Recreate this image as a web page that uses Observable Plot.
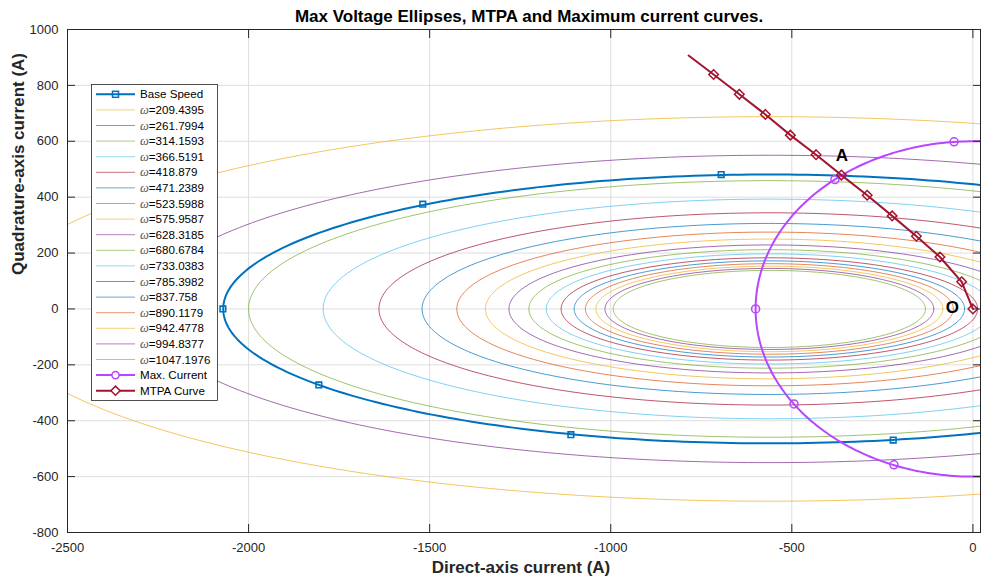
<!DOCTYPE html>
<html><head><meta charset="utf-8">
<script src="https://cdn.jsdelivr.net/npm/d3@7"></script>
<script src="https://cdn.jsdelivr.net/npm/@observablehq/plot@0.6"></script>
<style>
body{margin:0;background:#fff;}
#chart{position:relative;width:981px;height:578px;overflow:hidden;}
</style>
</head><body><div id="chart"></div>
<script>
// ---- data ----
const omegaLabels = ["209.4395","261.7994","314.1593","366.5191","418.879","471.2389","523.5988","575.9587","628.3185","680.6784","733.0383","785.3982","837.758","890.1179","942.4778","994.8377","1047.1976"];
const ellipseCenterD = -562;
const semiAxisD = [2157,1725,1438,1232,1078,959,863,784,719,664,616,575,539,508,479,454,431];
const semiAxisQ = [688,550,459,393,344,306,275,250,229,212,197,183,172,162,153,145,138];
const baseSemiD = 1508;
const baseSemiQ = 481;
const baseMarkD = [-2071,-1806,-1519,-1110,-695,-220];
const baseMarkQ = [0,-272,375,-450,481,-469];
const maxCurrentRadius = 600;
const maxMarkD = [-52,-381,-600,-494,-218];
const maxMarkQ = [598,463,0,-340,-558];
const mtpaD = [0,-31,-91,-156,-223,-292,-363,-433,-504,-573,-645,-716,-785];
const mtpaQ = [0,97,186,260,333,407,479,552,622,696,768,839,907];
const mtpaMarked = 12; // first 12 points carry markers
const noteText = ["A","O"];
const noteD = [-362,-57];
const noteQ = [549,5];
const xTicks = [-2500,-2000,-1500,-1000,-500,0];
const yTicks = [-800,-600,-400,-200,0,200,400,600,800,1000];

// ---- styles ----
const palette = ["#EDB120","#7E2F8E","#77AC30","#4DBEEE","#A2142F","#0072BD","#D95319"];
const baseColor = "#0072BD";
const maxColor = "#B845FF";
const mtpaColor = "#A2142F";
const axisColor = "#262626";
const gridColor = "#dedede";
const font = "'Liberation Sans', Arial, Helvetica, sans-serif";
const fmt = d => String(d);

const angles = d3.range(0, 361, 1).map(a => a * Math.PI / 180);
const ellipsePts = (cx, a, b) => angles.map(t => ({d: cx + a * Math.cos(t), q: b * Math.sin(t)}));

const ellipseMarks = semiAxisD.map((a, i) =>
  Plot.line(ellipsePts(ellipseCenterD, a, semiAxisQ[i]), {x: "d", y: "q", stroke: palette[i % 7], strokeWidth: 0.9, strokeOpacity: 0.8, clip: true})
);

const baseCurve = ellipsePts(ellipseCenterD, baseSemiD, baseSemiQ);
const circleCurve = ellipsePts(0, maxCurrentRadius, maxCurrentRadius);
const baseMarks = baseMarkD.map((d, i) => ({d, q: baseMarkQ[i]}));
const maxMarks = maxMarkD.map((d, i) => ({d, q: maxMarkQ[i]}));
const mtpa = mtpaD.map((d, i) => ({d, q: mtpaQ[i]}));
const notes = noteText.map((t, i) => ({t, d: noteD[i], q: noteQ[i]}));

const plot = Plot.plot({
  width: 981, height: 578,
  marginLeft: 67, marginRight: 1, marginTop: 29, marginBottom: 46,
  x: {domain: [-2500, 21]},
  y: {domain: [-800, 1000]},
  style: {fontFamily: font, fontSize: "13px", color: axisColor, background: "white"},
  marks: [
    Plot.gridX(xTicks, {stroke: gridColor, strokeOpacity: 1, strokeWidth: 1}),
    Plot.gridY(yTicks, {stroke: gridColor, strokeOpacity: 1, strokeWidth: 1}),
    ...ellipseMarks,
    Plot.line(baseCurve, {x: "d", y: "q", stroke: baseColor, strokeWidth: 2, clip: true}),
    Plot.dot(baseMarks, {x: "d", y: "q", symbol: "square2", r: 3.6, stroke: baseColor, strokeWidth: 1.6, fill: "none"}),
    Plot.line(circleCurve, {x: "d", y: "q", stroke: maxColor, strokeWidth: 2, clip: true}),
    Plot.dot(maxMarks, {x: "d", y: "q", symbol: "circle", r: 4, stroke: maxColor, strokeWidth: 1.5, fill: "none"}),
    Plot.line(mtpa, {x: "d", y: "q", stroke: mtpaColor, strokeWidth: 2, clip: true}),
    Plot.dot(mtpa.slice(0, mtpaMarked), {x: "d", y: "q", symbol: "diamond2", r: 4.3, stroke: mtpaColor, strokeWidth: 1.5, fill: "none"}),
    Plot.text(notes, {x: "d", y: "q", text: "t", fontSize: 17, fontWeight: "bold", fill: "black"}),
    Plot.frame({stroke: axisColor, strokeWidth: 1}),
    Plot.axisX(xTicks, {anchor: "bottom", tickSize: 0, tickPadding: 10, tickFormat: fmt, label: null, fill: axisColor}),
    Plot.axisX(xTicks, {anchor: "bottom", tickSize: -8, tickFormat: () => "", label: null, stroke: axisColor}),
    Plot.axisX(xTicks, {anchor: "top", tickSize: -8, tickFormat: () => "", label: null, stroke: axisColor}),
    Plot.axisY(yTicks, {anchor: "left", tickSize: 0, tickPadding: 9, tickFormat: fmt, label: null, fill: axisColor}),
    Plot.axisY(yTicks, {anchor: "left", tickSize: -8, tickFormat: () => "", label: null, stroke: axisColor}),
    Plot.axisY(yTicks, {anchor: "right", tickSize: -8, tickFormat: () => "", label: null, stroke: axisColor}),
    Plot.text(["Max Voltage Ellipses, MTPA and Maximum current curves."], {text: d => d, frameAnchor: "top", lineAnchor: "middle", dy: -13, dx: 5, fontSize: 17, fontWeight: "bold", fill: "black"}),
    Plot.text(["Direct-axis current (A)"], {text: d => d, frameAnchor: "bottom", lineAnchor: "middle", dy: 35, dx: -3, fontSize: 17, fontWeight: "bold", fill: axisColor}),
    Plot.text(["Quadrature-axis current (A)"], {text: d => d, frameAnchor: "left", lineAnchor: "middle", dx: -49, dy: -6, rotate: -90, fontSize: 17, fontWeight: "bold", fill: axisColor})
  ]
});
document.getElementById("chart").appendChild(plot);

// ---- legend ----
const legendItems = [{label: "Base Speed", color: baseColor, w: 2, sym: "square", op: 1}]
  .concat(omegaLabels.map((o, i) => ({label: o, omega: true, color: palette[i % 7], w: 1, op: 0.6})))
  .concat([{label: "Max. Current", color: maxColor, w: 2, sym: "circle", op: 1},
           {label: "MTPA Curve", color: mtpaColor, w: 2, sym: "diamond", op: 1}]);
const svg = d3.select(plot);
const lg = svg.append("g").attr("font-family", font).attr("font-size", 11.6).attr("text-anchor", "start");
const bx = 91, by = 84, bw = 126, rowH = 15.6, y0 = 94.3;
lg.append("rect").attr("x", bx + 0.5).attr("y", by + 0.5).attr("width", bw).attr("height", 316)
  .attr("fill", "white").attr("stroke", axisColor).attr("stroke-width", 0.8);
legendItems.forEach((it, i) => {
  const y = y0 + i * rowH;
  lg.append("line").attr("x1", 96).attr("x2", 135).attr("y1", y).attr("y2", y)
    .attr("stroke", it.color).attr("stroke-width", it.w).attr("stroke-opacity", it.op);
  if (it.sym === "square") lg.append("rect").attr("x", 112.5).attr("y", y - 3).attr("width", 6).attr("height", 6).attr("fill", "none").attr("stroke", it.color).attr("stroke-width", 1.5);
  if (it.sym === "circle") lg.append("circle").attr("cx", 115.5).attr("cy", y).attr("r", 3.6).attr("fill", "white").attr("stroke", it.color).attr("stroke-width", 1.5);
  if (it.sym === "diamond") lg.append("path").attr("d", `M115.5,${y-4.6}L120.1,${y}L115.5,${y+4.6}L110.9,${y}Z`).attr("fill", "white").attr("stroke", it.color).attr("stroke-width", 1.5);
  const t = lg.append("text").attr("x", 140).attr("y", y).attr("dy", "0.36em").attr("fill", "black").attr("text-anchor", "start");
  if (it.omega) {
    t.append("tspan").attr("font-style", "italic").attr("font-family", "'Liberation Serif', 'DejaVu Serif', serif").attr("fill", "#555").attr("font-size", 12.5).text("ω");
    t.append("tspan").text("=" + it.label);
  } else t.text(it.label);
});
</script>
</body></html>
